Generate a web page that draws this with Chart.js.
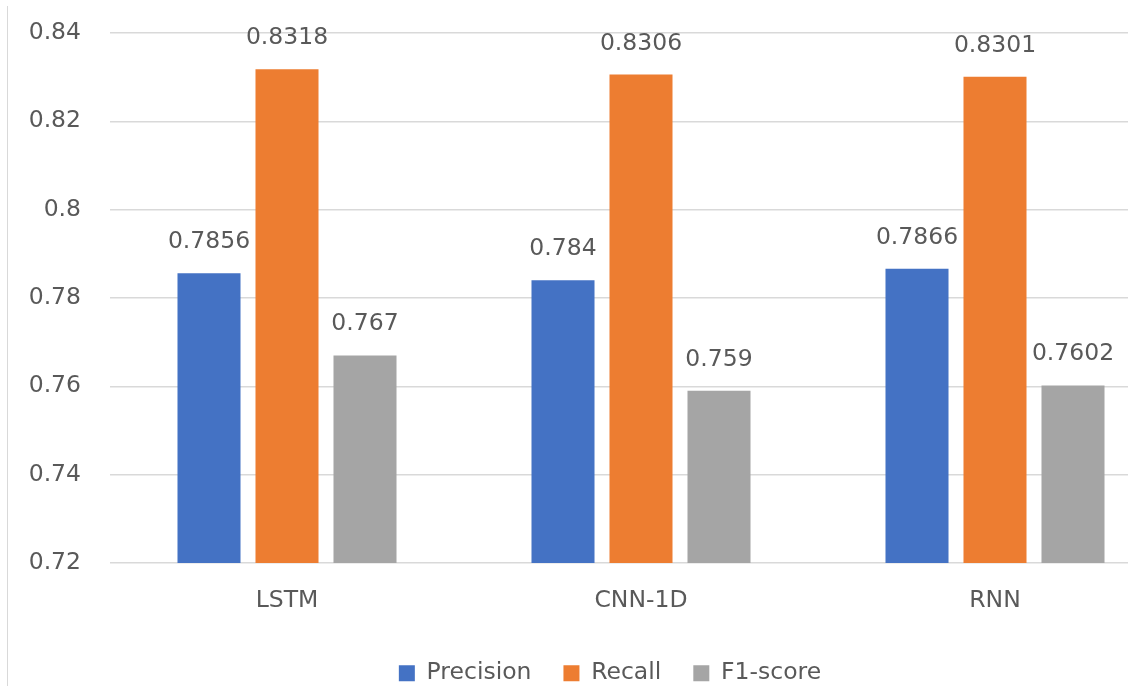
<!DOCTYPE html>
<html>
<head>
<meta charset="utf-8">
<script src="https://cdn.jsdelivr.net/npm/chart.js@4/dist/chart.umd.min.js"></script>
<style>
  html, body { margin: 0; padding: 0; background: #ffffff; overflow: hidden; }
  #frame { position: absolute; left: 0; top: 0; width: 1128px; height: 686px; overflow: hidden; }
  #edge { position: absolute; left: 7px; top: 6px; width: 1px; height: 680px; background: #d9d9d9; }
  #wrap { position: absolute; left: 0; top: 0; width: 1172px; height: 695px; }
</style>
</head>
<body>
<div id="frame">
  <div id="wrap"><canvas id="chart"></canvas></div>
  <div id="edge"></div>
</div>
<script>
// Models compared
const categories = ['LSTM', 'CNN-1D', 'RNN'];

// Metric scores per model
const precision = [0.7856, 0.784, 0.7866];
const recall = [0.8318, 0.8306, 0.8301];
const f1score = [0.767, 0.759, 0.7602];

// Value axis
const yMin = 0.72;
const yMax = 0.84;
const yStep = 0.02;

const FONT = 'DejaVu Sans';
const TEXT = '#595959';

// Writes each bar's value just above it
const valueLabels = {
  id: 'valueLabels',
  afterDatasetsDraw(chart) {
    const ctx = chart.ctx;
    ctx.save();
    ctx.font = '23.5px "' + FONT + '"';
    ctx.fillStyle = TEXT;
    ctx.textAlign = 'center';
    ctx.textBaseline = 'alphabetic';
    chart.data.datasets.forEach((ds, i) => {
      chart.getDatasetMeta(i).data.forEach((bar, j) => {
        ctx.fillText(String(ds.data[j]), bar.x, bar.y - 25);
      });
    });
    ctx.restore();
  }
};

// Nudges the legend row a little to the right of the canvas centre
const legendShift = {
  id: 'legendShift',
  afterLayout(chart) {
    const lg = chart.legend;
    if (lg) { lg.left += 24; lg.right += 24; }
  }
};

new Chart(document.getElementById('chart'), {
  type: 'bar',
  data: {
    labels: categories,
    datasets: [
      { label: 'Precision', data: precision, backgroundColor: '#4472C4' },
      { label: 'Recall', data: recall, backgroundColor: '#ED7D31' },
      { label: 'F1-score', data: f1score, backgroundColor: '#A5A5A5' }
    ]
  },
  options: {
    responsive: true,
    maintainAspectRatio: false,
    animation: false,
    devicePixelRatio: 1,
    datasets: {
      bar: { categoryPercentage: 0.661, barPercentage: 0.808, borderWidth: 0 }
    },
    layout: { padding: { top: 33, left: 0, right: 0, bottom: 0 } },
    plugins: {
      legend: {
        position: 'bottom',
        labels: {
          color: TEXT,
          font: { family: FONT, size: 23.5 },
          boxWidth: 16,
          boxHeight: 16,
          padding: 32
        }
      },
      tooltip: { enabled: false }
    },
    scales: {
      x: {
        grid: { display: false, drawTicks: false },
        border: { display: false },
        ticks: { color: TEXT, font: { family: FONT, size: 23.5 }, padding: 24 },
        afterFit(scale) { scale.height = 66.5; }
      },
      y: {
        min: yMin,
        max: yMax,
        grid: {
          color: '#d9d9d9',
          lineWidth: 1.5,
          drawTicks: true,
          tickLength: 29,
          tickColor: 'rgba(0,0,0,0)'
        },
        border: { display: false },
        ticks: {
          stepSize: yStep,
          color: TEXT,
          font: { family: FONT, size: 23.5 },
          padding: 0,
          callback: (v) => String(Number(v.toFixed(2)))
        },
        afterFit(scale) { scale.width = 110; }
      }
    }
  },
  plugins: [valueLabels, legendShift]
});
</script>
</body>
</html>
